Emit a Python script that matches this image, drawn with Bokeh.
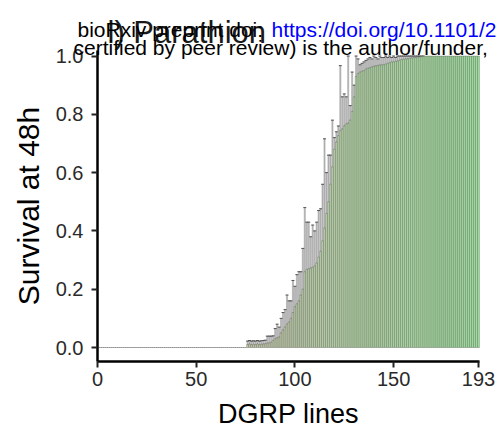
from bokeh.plotting import figure
from bokeh.models import Range1d, FixedTicker, ColumnDataSource, Label, NumeralTickFormatter
from bokeh.embed import file_html
from bokeh.resources import INLINE

# ---- data ----
lines = list(range(1, 194))

survival = [
    0.0, 0.0, 0.0, 0.0, 0.0, 0.0, 0.0, 0.0, 0.0, 0.0,
    0.0, 0.0, 0.0, 0.0, 0.0, 0.0, 0.0, 0.0, 0.0, 0.0,
    0.0, 0.0, 0.0, 0.0, 0.0, 0.0, 0.0, 0.0, 0.0, 0.0,
    0.0, 0.0, 0.0, 0.0, 0.0, 0.0, 0.0, 0.0, 0.0, 0.0,
    0.0, 0.0, 0.0, 0.0, 0.0, 0.0, 0.0, 0.0, 0.0, 0.0,
    0.0, 0.0, 0.0, 0.0, 0.0, 0.0, 0.0, 0.0, 0.0, 0.0,
    0.0, 0.0, 0.0, 0.0, 0.0, 0.0, 0.0, 0.0, 0.0, 0.0,
    0.0, 0.0, 0.0, 0.0, 0.0,                                   # 1-75
    0.010, 0.012, 0.010, 0.011, 0.010, 0.012, 0.010, 0.011, 0.012, 0.013,  # 76-85
    0.015, 0.016, 0.018, 0.024, 0.030, 0.033, 0.036, 0.050, 0.060, 0.070,  # 86-95
    0.080, 0.087, 0.100, 0.120, 0.140, 0.150, 0.160, 0.180, 0.200, 0.260,  # 96-105
    0.268, 0.270, 0.273, 0.275, 0.280, 0.290, 0.310, 0.330, 0.366, 0.410,  # 106-115
    0.460, 0.500, 0.560, 0.620, 0.680, 0.705, 0.727, 0.744, 0.750, 0.760,  # 116-125
    0.767, 0.770, 0.780, 0.810, 0.860, 0.930, 0.940, 0.945, 0.948, 0.950,  # 126-135
    0.955, 0.958, 0.960, 0.963, 0.965, 0.966, 0.968, 0.969, 0.970, 0.970,  # 136-145
    0.972, 0.975, 0.977, 0.980, 0.980, 0.982, 0.983, 0.985, 0.988, 0.989,  # 146-155
    0.990, 0.990, 0.992, 0.993, 0.994, 0.995, 0.996, 0.997, 0.998, 0.999,  # 156-165
    1.0, 1.0, 1.0, 1.0, 1.0, 1.0, 1.0, 1.0, 1.0, 1.0,
    1.0, 1.0, 1.0, 1.0, 1.0, 1.0, 1.0, 1.0, 1.0, 1.0,
    1.0, 1.0, 1.0, 1.0, 1.0, 1.0, 1.0, 1.0,                    # 166-193
]

# upper end of the error bar (mean + s.e.) for lines 76-165
upper_76_165 = [
    0.022, 0.024, 0.022, 0.023, 0.022, 0.024, 0.022, 0.023, 0.024, 0.025,  # 76-85
    0.039, 0.039, 0.039, 0.040, 0.065, 0.080, 0.070, 0.100, 0.120, 0.130,  # 86-95
    0.180, 0.160, 0.160, 0.230, 0.210, 0.250, 0.260, 0.260, 0.340, 0.480,  # 96-105
    0.430, 0.430, 0.380, 0.420, 0.400, 0.430, 0.470, 0.476, 0.560, 0.716,  # 106-115
    0.600, 0.660, 0.660, 0.780, 0.720, 0.740, 0.760, 0.967, 0.860, 0.870,  # 116-125
    0.860, 1.000, 0.830, 0.945, 0.900, 1.000, 0.990, 0.970, 0.975, 0.980,  # 126-135
    0.985, 0.990, 0.995, 0.990, 1.000, 0.995, 0.990, 1.000, 0.995, 0.995,  # 136-145
    1.000, 0.995, 1.000, 0.995, 1.000, 0.995, 1.000, 1.000, 1.000, 1.000,  # 146-155
    1.000, 1.000, 1.000, 1.000, 1.000, 1.000, 1.000, 1.000, 1.000, 1.000,  # 156-165
]
err_lines = lines[75:165]
err_low = survival[75:165]

x_ticks = [0, 50, 100, 150, 193]
y_ticks = [0.0, 0.2, 0.4, 0.6, 0.8, 1.0]

# ---- layout constants (pixels of the 497x437 page) ----
W, H = 497, 437
PX_LEFT, PX_RIGHT, PX_TOP, PX_BOTTOM = 97, 479, 50, 361
X_LO, X_HI = 0.0, 193.5          # data span of the plotting panel
Y_LO, Y_HI = -0.048, 1.019

sx = (PX_RIGHT - PX_LEFT) / (X_HI - X_LO)
sy = (PX_BOTTOM - PX_TOP) / (Y_HI - Y_LO)
x_range = Range1d(X_LO - PX_LEFT / sx, X_HI + (W - PX_RIGHT) / sx)
y_range = Range1d(Y_LO - (H - PX_BOTTOM) / sy, Y_HI + PX_TOP / sy)

# ---- styling helpers ----
def mix(c1, c2, t):
    return "#%02x%02x%02x" % tuple(int(round(a + (b - a) * t)) for a, b in zip(c1, c2))

low_col = (200, 204, 172)
high_col = (160, 232, 160)
n = len(lines)
fills = [mix(low_col, high_col, max(0.0, (i - 76) / (n - 76))) for i in lines]

src = ColumnDataSource(dict(x=lines, top=survival, fill=fills))
esrc = ColumnDataSource(dict(x=err_lines, y0=err_low, y1=upper_76_165))

p = figure(width=W, height=H, output_backend="svg", toolbar_location=None,
           x_range=x_range, y_range=y_range,
           min_border_left=0, min_border_right=0, min_border_top=0,
           min_border_bottom=0)
p.outline_line_color = None
p.xgrid.visible = False
p.ygrid.visible = False
p.background_fill_color = "white"

# error bars (behind bars): narrow grey boxes with a thin darker edge
p.vbar(x="x", bottom="y0", top="y1", width=0.55, source=esrc,
       fill_color="#c8c8c8", line_color="#7a7a7a", line_width=0.4)
p.scatter(x="x", y="y1", source=esrc, marker="dash", size=3,
          line_color="#555555", line_width=1)

# bars
p.vbar(x="x", top="top", bottom=0, width=0.9, source=src,
       fill_color="fill", line_color="#303030", line_width=0.5, line_alpha=0.6)

# axes, drawn at fixed data locations so the panel can span the page
p.yaxis.fixed_location = X_LO
p.xaxis.fixed_location = Y_LO
p.yaxis.bounds = (Y_LO, Y_HI)
p.xaxis.bounds = (X_LO, X_HI)
for ax in (p.xaxis[0], p.yaxis[0]):
    ax.axis_line_width = 2.5
    ax.axis_line_color = "black"
    ax.major_tick_line_color = "#222222"
    ax.major_tick_line_width = 2
    ax.major_tick_out = 6
    ax.major_tick_in = 0
    ax.minor_tick_line_color = None
    ax.major_label_text_font = "Liberation Sans"
    ax.major_label_text_font_size = "20px"
    ax.major_label_text_color = "#2a2a2a"
    ax.axis_label_text_font = "Liberation Sans"
    ax.axis_label_text_font_style = "normal"
    ax.axis_label_text_color = "black"

p.xaxis.axis_label_text_font_size = "27px"
p.yaxis.axis_label_text_font_size = "30px"
p.xaxis.ticker = FixedTicker(ticks=x_ticks)
p.yaxis.ticker = FixedTicker(ticks=y_ticks)
p.yaxis.formatter = NumeralTickFormatter(format="0.0")
p.xaxis.axis_label = "DGRP lines"
p.yaxis.axis_label = "Survival at 48h"
p.xaxis.major_label_standoff = 4
p.yaxis.major_label_standoff = 8
p.xaxis.axis_label_standoff = 10
p.yaxis.axis_label_standoff = 8

# overlaid texts (screen units: from the bottom-left corner of the page)
def header(text, x_px, base_px, size, color):
    p.add_layout(Label(x=x_px, y=H - base_px, x_units="screen", y_units="screen",
                       text=text, text_font="Liberation Sans",
                       text_font_size=size, text_color=color,
                       text_baseline="alphabetic"))

header("l) Parathion", 107, 32, "31px", "#1a1a1a")
header("bioRxiv preprint doi: ", 77, 29, "21px", "black")
header("https://doi.org/10.1101/2", 271, 29, "21px", "#0000ff")
header("certified by peer review) is the author/funder,", 73, 47, "21px", "black")

open("out.html", "w").write(file_html(p, INLINE))
